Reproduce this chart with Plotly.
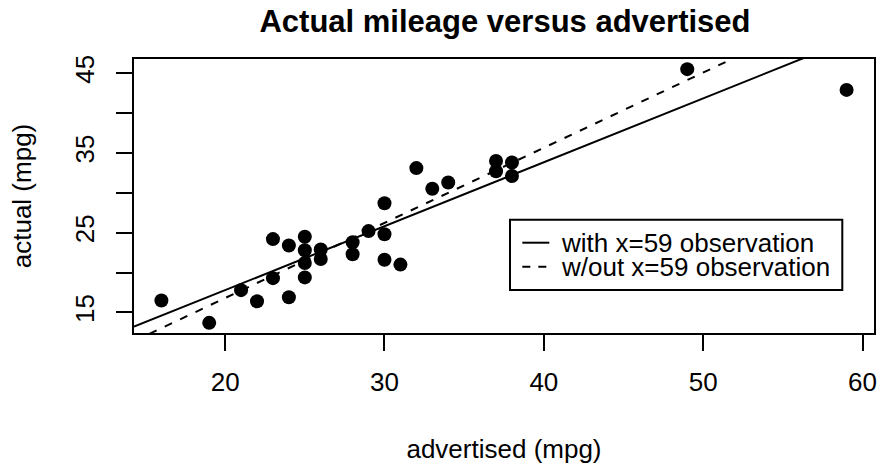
import numpy as np
import plotly.graph_objects as go

# data
advertised = [16, 19, 21, 22, 23, 23, 24, 24, 25, 25, 25, 25, 26, 26, 28, 28, 29,
              30, 30, 30, 31, 32, 33, 34, 37, 37, 38, 38, 49, 59]
actual = [16.5, 13.7, 17.8, 16.4, 24.2, 19.3, 23.4, 16.9, 24.5, 22.8, 21.2, 19.4,
          22.9, 21.7, 23.8, 22.3, 25.2, 28.7, 24.8, 21.6, 21.0, 33.1, 30.5, 31.3,
          34.0, 32.7, 33.8, 32.1, 45.5, 42.9]
x_ticks = [20, 30, 40, 50, 60]
y_ticks = [15, 20, 25, 30, 35, 40, 45]
y_ticktext = ["15", "", "25", "", "35", "", "45"]
legend_labels = ["with x=59 observation", "w/out x=59 observation"]

xa = np.array(advertised, dtype=float)
ya = np.array(actual, dtype=float)

# R-style axis ranges (4% extension)
def rng(v):
    lo, hi = v.min(), v.max()
    d = (hi - lo) * 0.04
    return [lo - d, hi + d]

xr = rng(xa)
yr = rng(ya)

fit_all = np.polyfit(xa, ya, 1)
mask = xa != 59
fit_wo = np.polyfit(xa[mask], ya[mask], 1)

xl = np.array(xr)

FONT = "Liberation Sans, Arial, Helvetica, sans-serif"

fig = go.Figure()
fig.add_trace(go.Scatter(x=advertised, y=actual, mode="markers",
                         marker=dict(size=14, color="black"),
                         showlegend=False, cliponaxis=False))
fig.add_trace(go.Scatter(x=xl, y=np.polyval(fit_all, xl), mode="lines",
                         line=dict(color="black", width=2),
                         showlegend=False))
fig.add_trace(go.Scatter(x=xl, y=np.polyval(fit_wo, xl), mode="lines",
                         line=dict(color="black", width=2, dash="8px,9px"),
                         showlegend=False))

# plot area in pixels: x 134..874, y 59..333
L, R, T, B = 134, 7, 59, 131
W, H = 881, 464
pw = W - L - R
ph = H - T - B

def px(xpix):
    return (xpix - L) / pw

def py(ypix):
    return (H - B - ypix) / ph

# manual legend box (R-style)
shapes = [
    dict(type="rect", xref="paper", yref="paper",
         x0=px(510), x1=px(842.3), y0=py(290), y1=py(219.7),
         line=dict(color="black", width=2), fillcolor="white"),
    dict(type="line", xref="paper", yref="paper",
         x0=px(522.3), x1=px(549.3), y0=py(242.7), y1=py(242.7),
         line=dict(color="black", width=2)),
    dict(type="line", xref="paper", yref="paper",
         x0=px(522.3), x1=px(549.3), y0=py(266.7), y1=py(266.7),
         line=dict(color="black", width=2, dash="8px,8px")),
]
annotations = [
    dict(text=legend_labels[0], xref="paper", yref="paper", x=px(559), y=py(242.7),
         xanchor="left", yanchor="middle", showarrow=False, height=22,
         font=dict(family=FONT, size=26, color="black")),
    dict(text=legend_labels[1], xref="paper", yref="paper", x=px(559), y=py(266.7),
         xanchor="left", yanchor="middle", showarrow=False, height=22,
         font=dict(family=FONT, size=26, color="black")),
]

fig.update_layout(
    width=W, height=H,
    margin=dict(l=L, r=R, t=T, b=B, autoexpand=False),
    paper_bgcolor="white", plot_bgcolor="white",
    font=dict(family=FONT, size=26, color="black"),
    title=dict(text="<b>Actual mileage versus advertised</b>",
               x=px(505), xref="paper", xanchor="center",
               y=1 - 21 / H, yref="container", yanchor="middle",
               font=dict(family=FONT, size=31, color="black")),
    shapes=shapes,
    annotations=annotations,
    showlegend=False,
)
fig.update_xaxes(range=xr, tickvals=x_ticks, ticks="outside", ticklen=16,
                 tickwidth=2, tickcolor="black", showline=True, linecolor="black",
                 linewidth=2, mirror=True, showgrid=False, zeroline=False,
                 automargin=False, ticklabelstandoff=9,
                 tickfont=dict(family=FONT, size=26),
                 title=dict(text="advertised (mpg)", standoff=47,
                            font=dict(family=FONT, size=26)))
fig.update_yaxes(range=yr, tickvals=y_ticks, ticktext=y_ticktext, ticks="outside",
                 ticklen=16, tickwidth=2, tickcolor="black", tickangle=-90,
                 showline=True, linecolor="black", linewidth=2, mirror=True,
                 showgrid=False, zeroline=False,
                 automargin=False, ticklabelstandoff=12,
                 tickfont=dict(family=FONT, size=26),
                 title=dict(text="actual (mpg)", standoff=30,
                            font=dict(family=FONT, size=26)))

fig.write_html("out.html",
               config={"displayModeBar": False, "staticPlot": True},
               post_script="document.body.style.margin='0';document.body.style.overflow='hidden';")
